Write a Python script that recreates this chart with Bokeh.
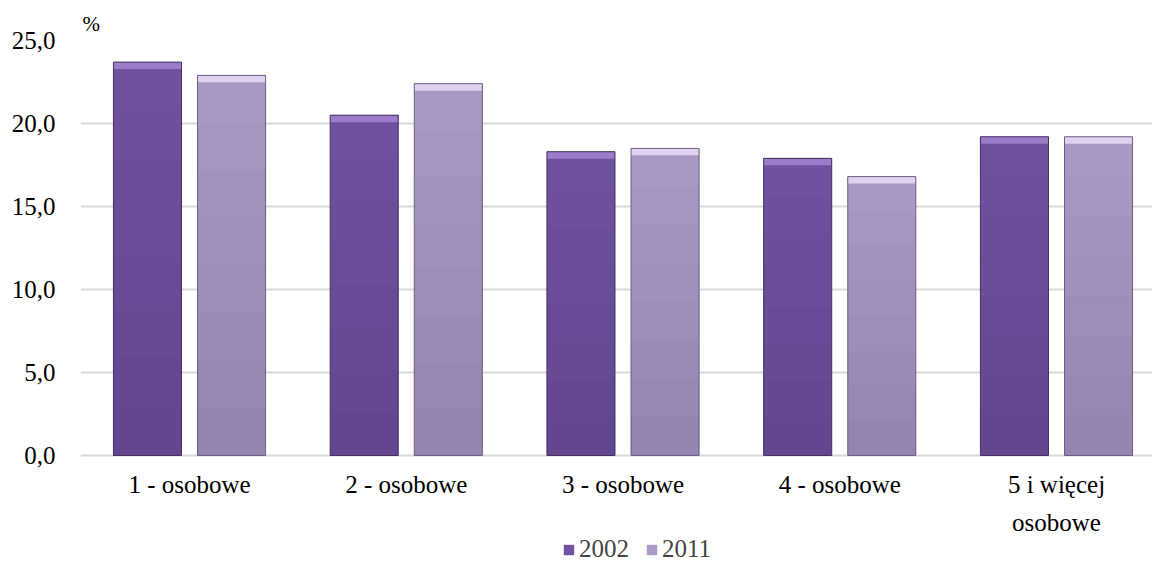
from bokeh.plotting import figure
from bokeh.models import ColumnDataSource, FixedTicker, Legend, LegendItem, Range1d
from bokeh.core.properties import value
from bokeh.embed import file_html
from bokeh.resources import INLINE
from bokeh.transform import dodge

categories = ["1 - osobowe", "2 - osobowe", "3 - osobowe", "4 - osobowe", "5 i więcej\nosobowe"]
values_2002 = [23.7, 20.5, 18.3, 17.9, 19.2]
values_2011 = [22.9, 22.4, 18.5, 16.8, 19.2]
series_names = ["2002", "2011"]
y_ticks = [0, 5, 10, 15, 20, 25]
y_tick_labels = ["0,0", "5,0", "10,0", "15,0", "20,0", "25,0"]

FONT = "Liberation Serif"
BEVEL = 0.42       # height of the bevel strip at the top of each bar (in % units)
LABEL_Y = -0.95    # where category labels start (below the zero line)
STEPS = 8          # shading bands that imitate the vertical gradient

xs = list(range(len(categories)))
src = ColumnDataSource(dict(
    x=xs,
    cat=categories,
    ly=[LABEL_Y] * len(categories),
    v2002=values_2002,
    v2011=values_2011,
    b2002=[v - BEVEL for v in values_2002],
    b2011=[v - BEVEL for v in values_2011],
))

p = figure(width=1152, height=563, output_backend="svg", toolbar_location=None,
           x_range=Range1d(-0.503, 4.443), y_range=Range1d(-6.506, 25),
           min_border_left=80, min_border_right=0, min_border_top=40, min_border_bottom=0)
p.outline_line_color = None
p.background_fill_color = "white"

W = 0.314
OFF = 0.194

def bars(col, bcol, off, body, bevel, edge):
    r = p.vbar(x=dodge("x", off), top=col, width=W, source=src,
               fill_color=body, line_color=None)
    # darker shading towards the bottom of the bar
    vals = src.data[col]
    for k in range(STEPS):
        lo = [v * k / STEPS for v in vals]
        hi = [v * (k + 1) / STEPS for v in vals]
        p.vbar(x=[x + off for x in xs], bottom=lo, top=hi, width=W,
               fill_color="#1a0a33", fill_alpha=0.16 * (1 - (k + 0.5) / STEPS),
               line_color=None)
    p.vbar(x=dodge("x", off), bottom=bcol, top=col, width=W, source=src,
           fill_color=bevel, line_color=None)
    p.vbar(x=dodge("x", off), top=col, width=W, source=src,
           fill_color=None, line_color=edge, line_width=1)
    return r

r1 = bars("v2002", "b2002", -OFF, "#7052a0", "#9a7cc8", "#45305f")
r2 = bars("v2011", "b2011", OFF, "#aa9ac6", "#ded2f0", "#6b5e82")

# category labels (below the zero line)
p.text(x="x", y="ly", text="cat", source=src, text_font=value(FONT),
       text_font_size="25px", text_color="black", text_align="center",
       text_baseline="top", text_line_height=1.4)

# axes
p.xaxis.visible = False
p.yaxis.ticker = FixedTicker(ticks=y_ticks)
p.yaxis.major_label_overrides = {t: l for t, l in zip(y_ticks, y_tick_labels)}
p.yaxis.major_label_text_font = FONT
p.yaxis.major_label_text_font_size = "25px"
p.yaxis.major_label_text_color = "black"
p.yaxis.major_tick_line_color = None
p.yaxis.minor_tick_line_color = None
p.yaxis.axis_line_color = None
p.yaxis.major_label_standoff = 19
p.xgrid.grid_line_color = None
p.ygrid.grid_line_color = "#d9d9d9"
p.ygrid.grid_line_width = 2

# "%" unit label
p.title.text = "%"
p.title.text_font = FONT
p.title.text_font_size = "21px"
p.title.text_font_style = "normal"
p.title.text_color = "black"
p.title.align = "left"
p.title.offset = 2

legend = Legend(items=[LegendItem(label=series_names[0], renderers=[r1]),
                       LegendItem(label=series_names[1], renderers=[r2])],
                location=(482, 0), orientation="horizontal",
                border_line_color=None, background_fill_alpha=0,
                label_text_font=FONT, label_text_font_size="25px",
                glyph_width=13, glyph_height=13, spacing=16, padding=0,
                label_standoff=4, margin=0)
p.add_layout(legend, "center")

open("out.html", "w").write(file_html(p, INLINE))
